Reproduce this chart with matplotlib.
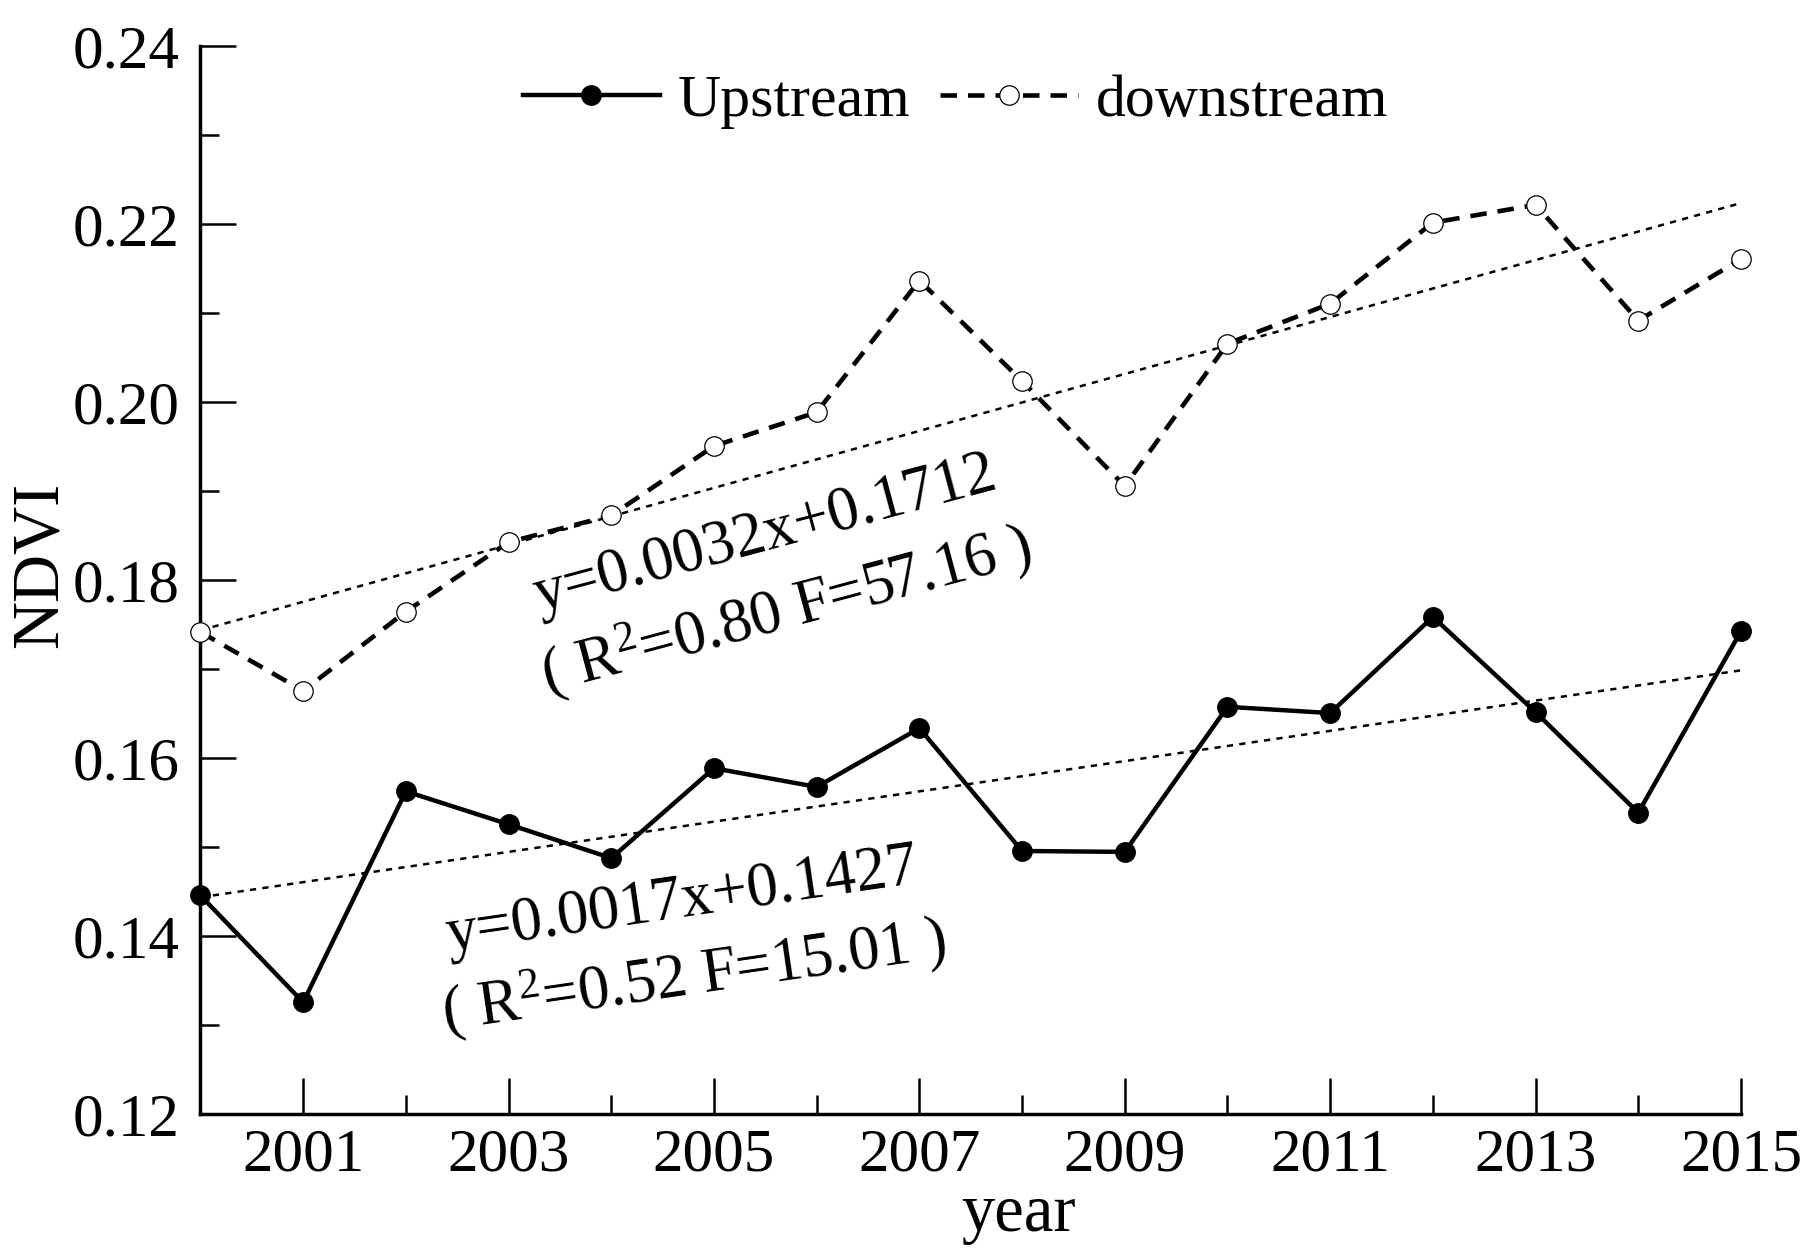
import matplotlib
matplotlib.use("Agg")
import matplotlib.pyplot as plt
import numpy as np

# data
years = list(range(2000, 2016))
upstream = [0.1446, 0.1326, 0.1563, 0.1526, 0.1488, 0.1589, 0.1568, 0.1634,
            0.1496, 0.1495, 0.1658, 0.1651, 0.1759, 0.1652, 0.1539, 0.1743]
downstream = [0.1742, 0.1676, 0.1765, 0.1843, 0.1873, 0.1951, 0.1989, 0.2137,
              0.2024, 0.1906, 0.2066, 0.2111, 0.2202, 0.2222, 0.2092, 0.2161]

# regression coefficients shown in the annotations (x = 1..16)
up_slope, up_icpt = 0.0017, 0.1427
down_slope, down_icpt = 0.0032, 0.1712

up_label = "Upstream"
down_label = "downstream"
up_text = ["y=0.0017x+0.1427", "( R$^{2}$=0.52 F=15.01 )"]
down_text = ["y=0.0032x+0.1712", "( R$^{2}$=0.80 F=57.16 )"]

plt.rcParams["font.family"] = "Liberation Serif"
plt.rcParams["mathtext.fontset"] = "custom"
plt.rcParams["mathtext.rm"] = "Liberation Serif"
plt.rcParams["mathtext.it"] = "Liberation Serif:italic"

fig = plt.figure(figsize=(18.06, 12.55), dpi=100)
ax = fig.add_axes([0.111, 0.112, 0.853, 0.851])

x = np.array(years)
t = np.arange(1, len(years) + 1)

# trend lines
ax.plot(x, down_slope * t + down_icpt, color="black", lw=1.8, dashes=(2.5, 2.5), zorder=2)
ax.plot(x, up_slope * t + up_icpt, color="black", lw=1.8, dashes=(2.5, 2.5), zorder=2)

# series
ax.plot(x, upstream, color="black", lw=3.2, marker="o", ms=14,
        mfc="black", mec="black", label=up_label, clip_on=False, zorder=3)
ax.plot(x, downstream, color="black", lw=3.3, dashes=(3.6, 2.4), marker="o", ms=14,
        mfc="white", mec="black", mew=0.9, label=down_label, clip_on=False, zorder=3)

ax.set_xlim(2000, 2015)
ax.set_ylim(0.12, 0.24)
ax.set_xticks(range(2001, 2016, 2))
ax.set_xticks(range(2002, 2015, 2), minor=True)
ax.set_yticks(np.arange(0.12, 0.2401, 0.02))
ax.set_yticks(np.arange(0.13, 0.24, 0.02), minor=True)
ax.set_yticklabels(["%.2f" % v for v in np.arange(0.12, 0.2401, 0.02)])

for side in ["top", "right"]:
    ax.spines[side].set_visible(False)
for side in ["left", "bottom"]:
    ax.spines[side].set_linewidth(2.5)

ax.tick_params(axis="both", which="major", direction="in", length=26, width=1.8,
               labelsize=44, pad=15)
ax.tick_params(axis="both", which="minor", direction="in", length=14, width=1.8)
ax.tick_params(axis="x", which="major", pad=10)

ax.set_ylabel("NDVI", fontsize=48, va="center")
ax.yaxis.set_label_coords(-0.104, 0.515)
ax.set_xlabel("year", fontsize=48)
ax.xaxis.set_label_coords(0.531, -0.094)
ax.xaxis.label.set_va("center")

# equation annotations
ax.text(2003.29, 0.1765, down_text[0], fontsize=45, rotation=15,
        rotation_mode="anchor", ha="left", va="baseline")
ax.text(2003.37, 0.1674, down_text[1], fontsize=45, rotation=15,
        rotation_mode="anchor", ha="left", va="baseline")
ax.text(2002.41, 0.1383, up_text[0], fontsize=45, rotation=8.3,
        rotation_mode="anchor", ha="left", va="baseline")
ax.text(2002.38, 0.1294, up_text[1], fontsize=45, rotation=8.3,
        rotation_mode="anchor", ha="left", va="baseline")

leg = ax.legend(loc="center", bbox_to_anchor=(0.49, 0.948), ncol=2, frameon=False,
                fontsize=43, handlelength=2.3, handletextpad=0.3,
                columnspacing=0.5, numpoints=1)

fig.savefig("out.png", dpi=100)
